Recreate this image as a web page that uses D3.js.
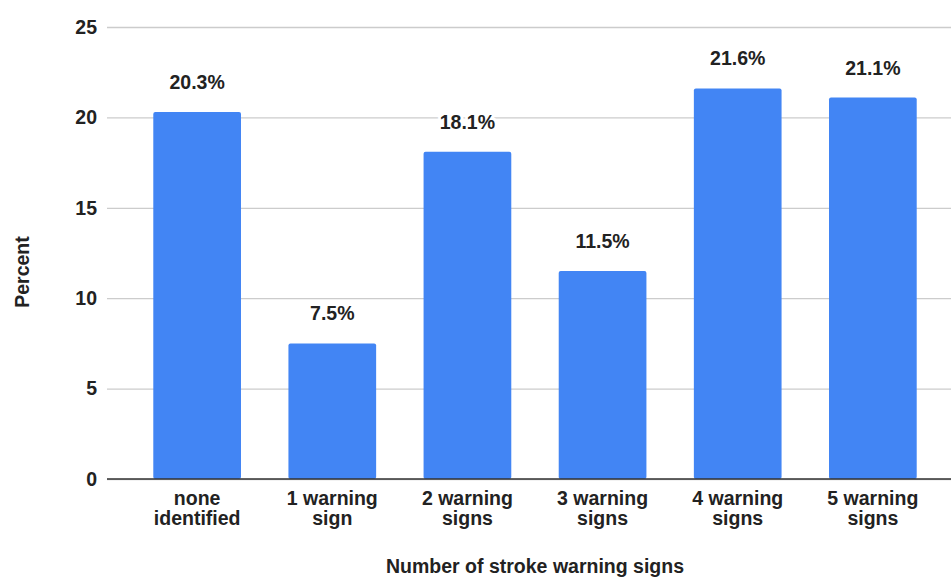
<!DOCTYPE html>
<html>
<head>
<meta charset="utf-8">
<style>
  body { margin: 0; background: #fff; }
  svg { display: block; font-family: "Liberation Sans", Arial, sans-serif; }
</style>
</head>
<body>
<div id="chart"></div>
<script src="https://d3js.org/d3.v7.min.js"></script>
<script>
  const categories = ["none identified", "1 warning sign", "2 warning signs",
                      "3 warning signs", "4 warning signs", "5 warning signs"];
  const categoryLines = [["none", "identified"], ["1 warning", "sign"], ["2 warning", "signs"],
                         ["3 warning", "signs"], ["4 warning", "signs"], ["5 warning", "signs"]];
  const percents = [20.3, 7.5, 18.1, 11.5, 21.6, 21.1];
  const yTicks = [0, 5, 10, 15, 20, 25];

  const width = 951, height = 580;
  const left = 107, zeroY = 479, topY = 27;

  const svg = d3.select("#chart").append("svg")
      .attr("width", width)
      .attr("height", height);

  let x = d3.scaleBand()
      .domain(categories)
      .range([left, 963])
      .paddingInner(0.351)
      .paddingOuter(0.3425);

  let y = d3.scaleLinear()
      .domain([0, 25])
      .range([zeroY, topY]);

  // gridlines + tick labels
  let yAxis = g => g
      .attr("transform", `translate(${left},0)`)
      .call(d3.axisLeft(y).tickValues(yTicks).tickSize(-(width - left)).tickPadding(10))
      .call(g => g.select(".domain").remove())
      .call(g => g.selectAll(".tick line").attr("stroke", "#cccccc").attr("stroke-width", 1.3))
      .call(g => g.selectAll(".tick text")
          .attr("fill", "#222")
          .attr("font-size", 19.5)
          .attr("font-weight", "bold"));
  svg.append("g").call(yAxis);

  // bars
  svg.append("g")
      .attr("fill", "#4285f4")
    .selectAll("rect")
    .data(percents)
    .join("rect")
      .attr("x", (d, i) => x(categories[i]))
      .attr("width", x.bandwidth())
      .attr("y", d => y(d))
      .attr("height", d => y(0) - y(d))
      .attr("rx", 2);

  // zero line
  svg.append("line")
      .attr("x1", left).attr("x2", width)
      .attr("y1", y(0)).attr("y2", y(0))
      .attr("stroke", "#333")
      .attr("stroke-width", 1.6);

  // value labels
  svg.append("g")
    .selectAll("text")
    .data(percents)
    .join("text")
      .attr("x", (d, i) => x(categories[i]) + x.bandwidth() / 2)
      .attr("y", d => y(d) - 23)
      .attr("text-anchor", "middle")
      .attr("font-size", 19.5)
      .attr("font-weight", "bold")
      .attr("fill", "#222")
      .attr("stroke", "#fff")
      .attr("stroke-width", 6)
      .attr("paint-order", "stroke")
      .text(d => d.toFixed(1) + "%");

  // category labels
  let cat = svg.append("g")
    .selectAll("text")
    .data(categoryLines)
    .join("text")
      .attr("text-anchor", "middle")
      .attr("font-size", 19.5)
      .attr("font-weight", "bold")
      .attr("fill", "#222")
      .attr("transform", (d, i) => `translate(${x(categories[i]) + x.bandwidth() / 2},505)`);
  cat.selectAll("tspan")
    .data(d => d)
    .join("tspan")
      .attr("x", 0)
      .attr("y", (d, i) => i * 20)
      .text(d => d);

  // axis titles
  svg.append("text")
      .attr("x", 535).attr("y", 573)
      .attr("text-anchor", "middle")
      .attr("font-size", 19.5)
      .attr("font-weight", "bold")
      .attr("fill", "#222")
      .text("Number of stroke warning signs");

  svg.append("text")
      .attr("transform", "translate(29,272) rotate(-90)")
      .attr("text-anchor", "middle")
      .attr("font-size", 19.5)
      .attr("font-weight", "bold")
      .attr("fill", "#222")
      .text("Percent");
</script>
</body>
</html>
